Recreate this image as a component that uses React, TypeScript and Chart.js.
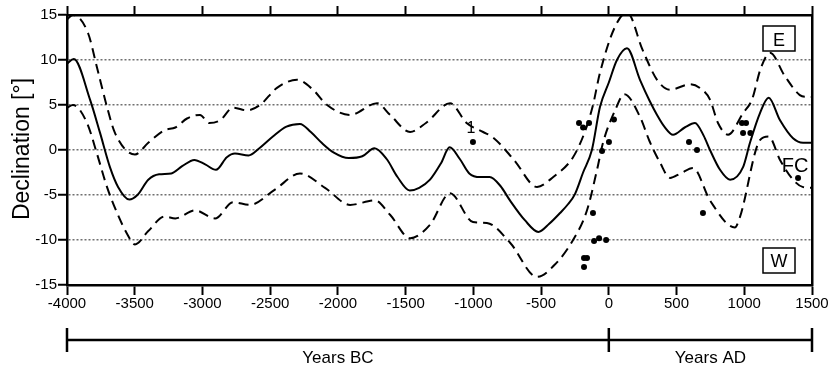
import React, { useEffect, useRef } from 'react';
import { Chart, registerables } from 'chart.js';

Chart.register(...registerables);

// Central declination curve (solid)
const curveYears = [-4000, -3950, -3830, -3756, -3683, -3623, -3540, -3480, -3400, -3320, -3230, -3150, -3060, -2980, -2900, -2820, -2760, -2660, -2580, -2480, -2380, -2280, -2200, -2120, -2030, -1920, -1820, -1730, -1640, -1560, -1470, -1400, -1320, -1240, -1175, -1100, -1030, -950, -880, -800, -730, -620, -520, -440, -360, -300, -250, -190, -125, -65, 0, 60, 134, 230, 300, 356, 410, 474, 560, 636, 700, 747, 821, 895, 991, 1042, 1116, 1180, 1264, 1360, 1434, 1500];
const curveValues = [9.6, 10.1, 5.6, 1.9, -1.9, -4.1, -5.5, -5.0, -3.3, -2.7, -2.6, -1.8, -1.1, -1.6, -2.2, -0.8, -0.4, -0.6, 0.2, 1.5, 2.6, 2.9, 2.0, 0.8, -0.3, -0.9, -0.7, 0.2, -1.0, -3.0, -4.5, -4.2, -3.3, -1.5, 0.3, -1.0, -2.6, -3.0, -3.0, -4.0, -5.6, -7.8, -9.1, -8.2, -7.0, -6.0, -4.9, -2.5, 0, 4.8, 7.5, 10, 11.3, 7.8, 5.5, 3.9, 2.6, 1.7, 2.5, 3.0, 1.6, 0, -2.2, -3.3, -1.9, 0.8, 4.1, 5.8, 3.3, 1.3, 0.8, 0.8];

// Upper error envelope (dashed)
const upperYears = [-4000, -3956, -3845, -3779, -3705, -3646, -3498, -3400, -3280, -3200, -3114, -3018, -2950, -2870, -2774, -2671, -2575, -2450, -2302, -2184, -2080, -1911, -1711, -1615, -1467, -1350, -1172, -1050, -928, -855, -700, -530, -410, -264, -180, -120, -65, 40, 134, 250, 356, 452, 600, 680, 747, 806, 880, 991, 1057, 1120, 1190, 1300, 1410, 1463, 1500];
const upperValues = [14.5, 15.0, 13.0, 9.2, 4.8, 1.9, -0.5, 0.8, 2.2, 2.5, 3.5, 3.9, 3.0, 3.3, 4.7, 4.4, 5.0, 6.9, 7.8, 6.7, 5.0, 3.9, 5.2, 3.9, 2.0, 3.0, 5.2, 3.0, 2.0, 1.4, -1.1, -4.1, -3.0, -0.8, 1.9, 4.8, 8.6, 13.5, 15.3, 11.1, 7.8, 6.7, 7.3, 6.8, 5.6, 3.0, 1.7, 4.1, 5.6, 9.0, 10.8, 8.2, 6.1, 5.9, 5.9];

// Lower error envelope (dashed)
const lowerYears = [-4000, -3956, -3852, -3779, -3705, -3630, -3557, -3498, -3400, -3280, -3200, -3055, -2907, -2774, -2650, -2465, -2280, -2095, -1910, -1726, -1615, -1467, -1320, -1172, -1003, -900, -729, -530, -390, -264, -161, -87, -43, 46, 115, 230, 300, 378, 452, 530, 622, 747, 930, 969, 1116, 1180, 1264, 1360, 1430, 1500];
const lowerValues = [4.7, 5.0, 3.0, -0.4, -4.1, -7.0, -9.3, -10.5, -9.0, -7.4, -7.6, -6.7, -7.6, -5.8, -6.1, -4.4, -2.6, -4.2, -6.1, -5.6, -7.2, -9.8, -8.3, -4.8, -8.0, -8.1, -10.3, -14.1, -12.6, -10.0, -6.7, -2.2, 0.8, 4.4, 6.2, 3.7, 1.0, -1.4, -3.1, -2.6, -2.0, -5.6, -8.6, -7.4, 1.1, 1.5, -1.1, -3.3, -4.1, -4.2];

// Individual data points
const pointYears = [-1003, -220, -190, -146, 38, 1, -50, -117, -109, -72, -20, -183, -161, -183, 592, 651, 695, 983, 1013, 991, 1045, 1397];
const pointValues = [0.9, 3.0, 2.5, 3.0, 3.4, 0.9, -0.1, -7.0, -10.1, -9.8, -10.0, -12.0, -12.0, -13.0, 0.9, 0.0, -7.0, 3.0, 3.0, 1.9, 1.9, -3.1];

const xMin = -4000;
const xMax = 1500;
const xStep = 500;
const yMin = -15;
const yMax = 15;
const yStep = 5;

const yTitle = 'Declination [°]';
const bcLabel = 'Years BC';
const adLabel = 'Years AD';
const eastLabel = 'E';
const westLabel = 'W';
const fcLabel = 'FC';
const fcYear = 1397;
const fcValue = -3.1;
const oneLabel = '1';
const oneYear = -1003;
const oneValue = 0.9;

const FONT = "'Liberation Sans', Arial, sans-serif";

const toXY = (xs: number[], ys: number[]) => xs.map((x, i) => ({ x, y: ys[i] }));

const decorations = {
  id: 'decorations',
  afterDraw(chart: any) {
    const { ctx, chartArea, scales } = chart;
    const xs = scales.x;
    const ys = scales.y;
    ctx.save();
    ctx.fillStyle = '#000';
    ctx.strokeStyle = '#000';

    // Y title
    ctx.save();
    ctx.translate(28.5, (chartArea.top + chartArea.bottom) / 2 - 1);
    ctx.rotate(-Math.PI / 2);
    ctx.font = `23px ${FONT}`;
    ctx.textAlign = 'center';
    ctx.textBaseline = 'alphabetic';
    ctx.fillText(yTitle, 0, 0);
    ctx.restore();

    // Bottom bracket
    const bx0 = xs.getPixelForValue(xMin);
    const bx1 = xs.getPixelForValue(0);
    const bx2 = xs.getPixelForValue(xMax);
    const by = 340;
    ctx.lineWidth = 2.5;
    ctx.beginPath();
    ctx.moveTo(bx0, by);
    ctx.lineTo(bx2, by);
    [bx0, bx1, bx2].forEach((bx) => {
      ctx.moveTo(bx, by - 12);
      ctx.lineTo(bx, by + 12);
    });
    ctx.stroke();
    ctx.font = `17px ${FONT}`;
    ctx.textAlign = 'center';
    ctx.textBaseline = 'alphabetic';
    ctx.fillText(bcLabel, (bx0 + bx1) / 2, 363);
    ctx.fillText(adLabel, (bx1 + bx2) / 2, 363);

    // E / W boxes
    const boxW = 32;
    const boxH = 25;
    const boxX = chartArea.right - 49;
    ctx.lineWidth = 1.5;
    ctx.strokeRect(boxX, chartArea.top + 11, boxW, boxH);
    ctx.strokeRect(boxX, chartArea.bottom - 37, boxW, boxH);
    ctx.font = `18px ${FONT}`;
    ctx.fillText(eastLabel, boxX + boxW / 2, chartArea.top + 30.5);
    ctx.fillText(westLabel, boxX + boxW / 2, chartArea.bottom - 18);

    // FC label
    ctx.font = `20px ${FONT}`;
    ctx.fillText(fcLabel, xs.getPixelForValue(fcYear) - 3, ys.getPixelForValue(fcValue) - 6);

    // "1" label
    ctx.font = `16px ${FONT}`;
    ctx.fillText(oneLabel, xs.getPixelForValue(oneYear) - 2, ys.getPixelForValue(oneValue) - 9);

    ctx.restore();
  },
};

export default function App() {
  const canvasRef = useRef<HTMLCanvasElement | null>(null);

  useEffect(() => {
    if (!canvasRef.current) return;
    const tickFont = { family: FONT, size: 15 };
    const chart = new Chart(canvasRef.current, {
      type: 'line',
      data: {
        datasets: [
          {
            label: 'Declination',
            data: toXY(curveYears, curveValues),
            borderColor: '#000',
            borderWidth: 2,
            pointRadius: 0,
            fill: false,
            cubicInterpolationMode: 'monotone',
          },
          {
            label: 'Upper',
            data: toXY(upperYears, upperValues),
            borderColor: '#000',
            borderWidth: 2,
            borderDash: [10, 6],
            pointRadius: 0,
            fill: false,
            cubicInterpolationMode: 'monotone',
          },
          {
            label: 'Lower',
            data: toXY(lowerYears, lowerValues),
            borderColor: '#000',
            borderWidth: 2,
            borderDash: [10, 6],
            pointRadius: 0,
            fill: false,
            cubicInterpolationMode: 'monotone',
          },
          {
            type: 'scatter',
            label: 'Points',
            data: toXY(pointYears, pointValues),
            backgroundColor: '#000',
            borderWidth: 0,
            pointRadius: 3,
            showLine: false,
          } as any,
        ],
      },
      options: {
        animation: false,
        responsive: true,
        maintainAspectRatio: false,
        layout: { padding: { left: 0, right: 20, top: 0, bottom: 0 } },
        plugins: { legend: { display: false }, tooltip: { enabled: false } },
        scales: {
          x: {
            type: 'linear',
            position: 'bottom',
            min: xMin,
            max: xMax,
            ticks: {
              stepSize: xStep,
              autoSkip: false,
              maxRotation: 0,
              color: '#000',
              font: tickFont,
              padding: 0,
              callback: (v: any) => String(v),
            },
            grid: { drawOnChartArea: false, drawTicks: true, tickLength: 10, tickWidth: 2, tickColor: '#000' },
            border: { display: true, color: '#000', width: 2.5 },
            afterFit: (s: any) => { s.height = 84; },
          },
          xTop: {
            type: 'linear',
            position: 'top',
            min: xMin,
            max: xMax,
            ticks: { stepSize: xStep, display: false },
            grid: { drawOnChartArea: false, drawTicks: true, tickLength: 9, tickWidth: 2, tickColor: '#000' },
            border: { display: true, color: '#000', width: 2.5 },
            afterFit: (s: any) => { s.height = 15; },
          },
          y: {
            type: 'linear',
            position: 'left',
            min: yMin,
            max: yMax,
            ticks: { stepSize: yStep, color: '#000', font: tickFont, padding: 1 },
            grid: {
              drawOnChartArea: true,
              color: (c: any) => (c.tick && Math.abs(c.tick.value) >= yMax ? 'rgba(0,0,0,0)' : '#707070'),
              lineWidth: 1.5,
              tickLength: 9,
              tickWidth: 2,
              tickColor: '#000',
            },
            border: { display: true, color: '#000', width: 2.5, dash: [2, 2] },
            afterFit: (s: any) => { s.width = 67; },
          },
          yRight: {
            type: 'linear',
            position: 'right',
            min: yMin,
            max: yMax,
            ticks: { display: false },
            grid: { drawOnChartArea: false, drawTicks: false },
            border: { display: true, color: '#000', width: 2.5 },
            afterFit: (s: any) => { s.width = 0; },
          },
        },
      } as any,
      plugins: [decorations],
    });
    return () => chart.destroy();
  }, []);

  return (
    <div style={{ position: 'fixed', left: 0, top: 0, width: 832, height: 369, background: '#fff' }}>
      <canvas ref={canvasRef} />
    </div>
  );
}
